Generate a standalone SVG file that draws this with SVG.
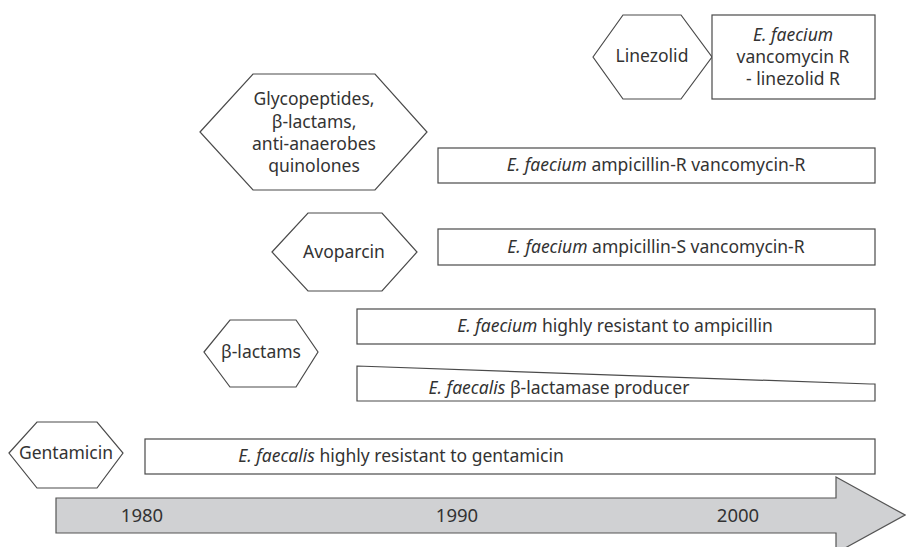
<svg xmlns="http://www.w3.org/2000/svg" width="906" height="547" viewBox="0 0 906 547">
<style>
  .shape { fill: #ffffff; stroke: #4a4a4a; stroke-width: 1.2; }
  .axis { fill: #d0d1d3; stroke: #555555; stroke-width: 1.2; }
  text { font-family: "Noto Sans", "Open Sans", "Liberation Sans", sans-serif; font-size: 17.5px; fill: #333333; text-anchor: middle; }
  .it { font-style: italic; }
  .yr { font-size: 18.5px; }
</style>
<rect width="906" height="547" fill="#ffffff"/>
<g id="timeline">
  <polygon class="axis" points="56,498 836,498 836,477 905,515 836,553 836,533 56,533"/>
  <text class="yr" x="142" y="522">1980</text>
  <text class="yr" x="457" y="522">1990</text>
  <text class="yr" x="738" y="522">2000</text>
</g>
<g id="linezolid">
  <polygon class="shape" points="593,57 623,15 681,15 712,57 681,99 623,99"/>
  <text x="652" y="62">Linezolid</text>
</g>
<g id="faecium-linezolid">
  <rect class="shape" x="712" y="15" width="163" height="84"/>
  <text x="793" y="41" class="it">E. faecium</text>
  <text x="793" y="63">vancomycin R</text>
  <text x="793" y="85">- linezolid R</text>
</g>
<g id="glycopeptides">
  <polygon class="shape" points="200,132 253,74 375,74 427,132 375,190 253,190"/>
  <text x="314" y="105">Glycopeptides,</text>
  <text x="314" y="128">β-lactams,</text>
  <text x="314" y="150">anti-anaerobes</text>
  <text x="314" y="172">quinolones</text>
</g>
<g id="faecium-ampR-vanR">
  <rect class="shape" x="438" y="148" width="437" height="35"/>
  <text x="656" y="171"><tspan class="it">E. faecium</tspan> ampicillin-R vancomycin-R</text>
</g>
<g id="avoparcin">
  <polygon class="shape" points="272,252 308,213 382,213 417,252 382,291 308,291"/>
  <text x="344" y="258">Avoparcin</text>
</g>
<g id="faecium-ampS-vanR">
  <rect class="shape" x="438" y="229" width="437" height="36"/>
  <text x="656" y="253"><tspan class="it">E. faecium</tspan> ampicillin-S vancomycin-R</text>
</g>
<g id="betalactams">
  <polygon class="shape" points="204,352 230,320 296,320 318,352 296,387 230,387"/>
  <text x="261" y="358">β-lactams</text>
</g>
<g id="faecium-amp">
  <rect class="shape" x="357" y="309" width="518" height="35"/>
  <text x="615" y="332"><tspan class="it">E. faecium</tspan> highly resistant to ampicillin</text>
</g>
<g id="faecalis-blactamase">
  <polygon class="shape" points="357,366 870,384 875,384 875,401 357,401"/>
  <text x="559" y="394"><tspan class="it">E. faecalis</tspan> β-lactamase producer</text>
</g>
<g id="gentamicin">
  <polygon class="shape" points="9,453 37,422 97,422 123,453 97,488 37,488"/>
  <text x="66" y="459">Gentamicin</text>
</g>
<g id="faecalis-gentamicin">
  <rect class="shape" x="145" y="439" width="730" height="35"/>
  <text x="401" y="462"><tspan class="it">E. faecalis</tspan> highly resistant to gentamicin</text>
</g>
<g id="connectors"></g>
</svg>
